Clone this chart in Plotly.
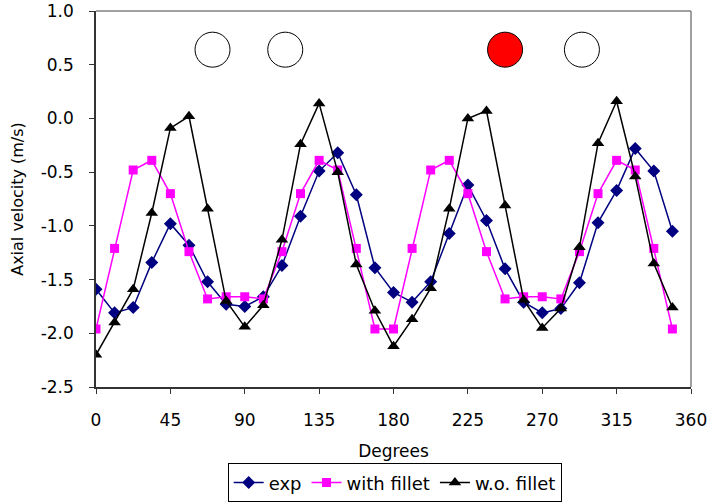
import plotly.graph_objects as go

degrees = [i * 11.25 for i in range(32)]

exp = [-1.59, -1.81, -1.76, -1.34, -0.98, -1.18, -1.52, -1.73, -1.75, -1.66,
       -1.37, -0.91, -0.49, -0.32, -0.71, -1.39, -1.62, -1.71, -1.52, -1.07,
       -0.62, -0.95, -1.40, -1.71, -1.81, -1.77, -1.53, -0.97, -0.67, -0.28,
       -0.49, -1.05]

with_fillet = [-1.96, -1.21, -0.48, -0.39, -0.70, -1.24, -1.68, -1.66, -1.66, -1.68,
               -1.24, -0.70, -0.39, -0.48, -1.21, -1.96, -1.96, -1.21, -0.48, -0.39,
               -0.70, -1.24, -1.68, -1.66, -1.66, -1.68, -1.24, -0.70, -0.39, -0.48,
               -1.21, -1.96]

wo_fillet = [-2.20, -1.90, -1.59, -0.88, -0.09, 0.02, -0.84, -1.70, -1.94, -1.74,
             -1.13, -0.24, 0.14, -0.50, -1.36, -1.79, -2.12, -1.87, -1.58, -0.84,
             0.00, 0.07, -0.81, -1.69, -1.95, -1.77, -1.20, -0.23, 0.16, -0.54,
             -1.35, -1.76]

circle_x = [70.5, 114.5, 247.5, 294.0]
circle_y = [0.64, 0.64, 0.64, 0.64]
circle_fill = ["white", "white", "#FF0000", "white"]

x_ticks = [0, 45, 90, 135, 180, 225, 270, 315, 360]
y_ticks = [-2.5, -2.0, -1.5, -1.0, -0.5, 0.0, 0.5, 1.0]
y_tick_labels = ["-2.5", "-2.0", "-1.5", "-1.0", "-0.5", "0.0", "0.5", "1.0"]

FONT = "DejaVu Sans, Verdana, sans-serif"

fig = go.Figure()
fig.add_trace(go.Scatter(
    x=degrees, y=exp, name="exp", mode="lines+markers",
    line=dict(color="#000080", width=1.5),
    marker=dict(symbol="diamond", size=10, color="#000080")))
fig.add_trace(go.Scatter(
    x=degrees, y=with_fillet, name="with fillet", mode="lines+markers",
    line=dict(color="#FF00FF", width=1.5),
    marker=dict(symbol="square", size=9, color="#FF00FF")))
fig.add_trace(go.Scatter(
    x=degrees, y=wo_fillet, name="w.o. fillet", mode="lines+markers",
    line=dict(color="#000000", width=1.5),
    marker=dict(symbol="triangle-up", size=11, color="#000000")))
fig.add_trace(go.Scatter(
    x=circle_x, y=circle_y, mode="markers", showlegend=False, hoverinfo="skip",
    marker=dict(symbol="circle", size=35, color=circle_fill,
                line=dict(color="black", width=1))))

# grey frame on top and right
fig.add_shape(type="line", xref="paper", yref="paper", x0=0, x1=1, y0=1, y1=1,
              line=dict(color="#808080", width=1.5))
fig.add_shape(type="line", xref="paper", yref="paper", x0=1, x1=1, y0=0, y1=1,
              line=dict(color="#808080", width=1.5))

fig.update_layout(
    width=710, height=502,
    margin=dict(l=96, r=19, t=11, b=115, autoexpand=False),
    paper_bgcolor="white", plot_bgcolor="white",
    font=dict(family=FONT, size=17, color="#000000"),
    showlegend=True,
    legend=dict(orientation="h", x=0.502, xanchor="center", y=-0.203, yanchor="top",
                bordercolor="#000000", borderwidth=1, font=dict(size=18),
                itemwidth=30, tracegroupgap=0),
    xaxis=dict(range=[0, 360], tickvals=x_ticks, ticktext=[str(v) for v in x_ticks],
               showgrid=False, zeroline=False, showline=True, linecolor="#333333",
               linewidth=1.5, ticks="outside", ticklen=5, tickcolor="#333333",
               ticklabelstandoff=12, automargin=False,
               title=dict(text="Degrees", font=dict(size=17), standoff=16)),
    yaxis=dict(range=[-2.5, 1.0], tickvals=y_ticks, ticktext=y_tick_labels,
               showgrid=False, zeroline=False, showline=True, linecolor="#333333",
               linewidth=1.5, ticks="outside", ticklen=5, tickcolor="#333333",
               ticklabelstandoff=12, automargin=False,
               title=dict(text="Axial velocity (m/s)", font=dict(size=16), standoff=13)),
)

fig.write_html("out.html", config={"displayModeBar": False},
               post_script="document.body.style.margin='0';")
